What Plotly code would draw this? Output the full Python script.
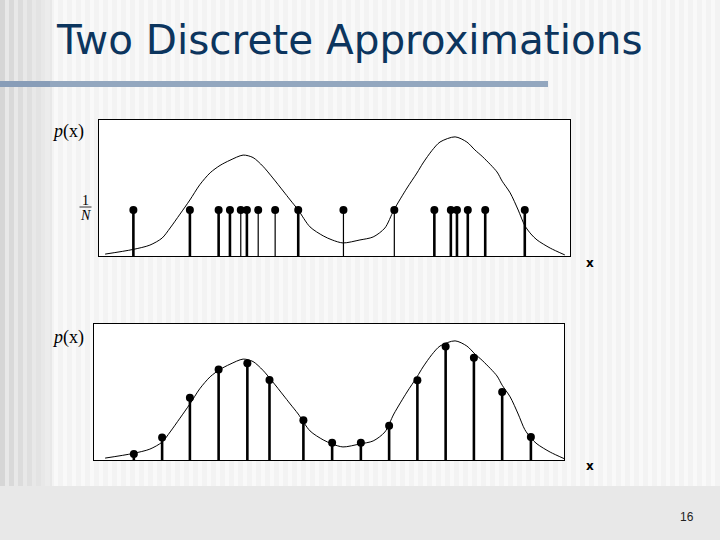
import plotly.graph_objects as go

# ---------------- data ----------------
# continuous density p(x) (same curve in both panels)
curve_x = [0.13, 0.72, 1.08, 1.34, 1.51, 1.72, 1.93, 2.14, 2.36, 2.57, 2.78, 3.06, 3.27, 3.48,
           3.69, 3.91, 4.06, 4.23, 4.48, 4.76, 4.95, 5.18, 5.54, 5.82, 6.07, 6.26, 6.54, 6.75,
           6.88, 7.07, 7.24, 7.56, 7.81, 7.98, 8.15, 8.45, 8.56, 8.73, 8.90, 9.04, 9.17, 9.30,
           9.58, 9.89]
curve_y = [0.007, 0.024, 0.040, 0.066, 0.103, 0.154, 0.206, 0.262, 0.306, 0.333, 0.352, 0.371,
           0.362, 0.330, 0.287, 0.239, 0.206, 0.169, 0.107, 0.074, 0.059, 0.048, 0.059, 0.070,
           0.103, 0.169, 0.250, 0.305, 0.342, 0.388, 0.419, 0.438, 0.419, 0.390, 0.364, 0.309,
           0.275, 0.232, 0.169, 0.112, 0.081, 0.059, 0.029, 0.004]

# panel 1: equally weighted samples (height 1/N)
sample_x = [0.73, 1.93, 2.54, 2.78, 3.01, 3.14, 3.38, 3.74, 4.23, 5.19, 6.27, 7.12, 7.47,
            7.60, 7.83, 8.20, 9.04]
sample_thin = [False, False, False, False, True, False, True, True, False, True, True, False,
               False, False, False, False, False]
one_over_n = 0.169

# panel 2: regular grid, weighted by density
grid_x = [0.74, 1.34, 1.93, 2.54, 3.15, 3.62, 4.34, 4.95, 5.56, 6.16, 6.76, 7.36, 7.96, 8.56, 9.17]
grid_w = [0.022, 0.083, 0.229, 0.333, 0.356, 0.294, 0.146, 0.063, 0.063, 0.126, 0.293, 0.417,
          0.376, 0.250, 0.085]

title_text = "Two Discrete Approximations"
page_number = "16"

# ---------------- figure ----------------
W, H = 720, 540
fig = go.Figure()


def stems(xs, hs):
    sx, sy = [], []
    for x, h in zip(xs, hs):
        sx += [x, x, None]
        sy += [0, h, None]
    return sx, sy


curve_line = dict(color="black", width=1, shape="spline", smoothing=0.8)

# top panel
thick_x = [x for x, t in zip(sample_x, sample_thin) if not t]
thin_x = [x for x, t in zip(sample_x, sample_thin) if t]
fig.add_trace(go.Scatter(x=curve_x, y=curve_y, mode="lines", line=curve_line,
                         xaxis="x", yaxis="y", showlegend=False, hoverinfo="skip"))
sx, sy = stems(thick_x, [one_over_n] * len(thick_x))
fig.add_trace(go.Scatter(x=sx, y=sy, mode="lines", line=dict(color="black", width=2.6),
                         xaxis="x", yaxis="y", showlegend=False, hoverinfo="skip"))
sx, sy = stems(thin_x, [one_over_n] * len(thin_x))
fig.add_trace(go.Scatter(x=sx, y=sy, mode="lines", line=dict(color="black", width=1.2),
                         xaxis="x", yaxis="y", showlegend=False, hoverinfo="skip"))
fig.add_trace(go.Scatter(x=sample_x, y=[one_over_n] * len(sample_x), mode="markers",
                         marker=dict(color="black", size=8),
                         xaxis="x", yaxis="y", showlegend=False, hoverinfo="skip"))

# bottom panel
fig.add_trace(go.Scatter(x=curve_x, y=curve_y, mode="lines", line=curve_line,
                         xaxis="x2", yaxis="y2", showlegend=False, hoverinfo="skip"))
sx, sy = stems(grid_x, grid_w)
fig.add_trace(go.Scatter(x=sx, y=sy, mode="lines", line=dict(color="black", width=2.6),
                         xaxis="x2", yaxis="y2", showlegend=False, hoverinfo="skip"))
fig.add_trace(go.Scatter(x=grid_x, y=grid_w, mode="markers", marker=dict(color="black", size=8),
                         xaxis="x2", yaxis="y2", showlegend=False, hoverinfo="skip"))


def px(v):
    return v / W


def py(v):
    return 1 - v / H


axis_common = dict(showgrid=False, zeroline=False, showticklabels=False, ticks="",
                   showline=True, linecolor="black", linewidth=1, mirror=True, fixedrange=True)

fig.update_layout(
    width=W, height=H,
    margin=dict(l=0, r=0, t=0, b=0),
    paper_bgcolor="#f3f3f3",
    plot_bgcolor="white",
    xaxis=dict(domain=[px(99), px(570)], range=[0, 10], anchor="y", **axis_common),
    yaxis=dict(domain=[py(256), py(120)], range=[0, 0.5], anchor="x", **axis_common),
    xaxis2=dict(domain=[px(94), px(564)], range=[-0.106, 9.873], anchor="y2", **axis_common),
    yaxis2=dict(domain=[py(460), py(324)], range=[0, 0.5], anchor="x2", **axis_common),
)

# ---------------- slide background ----------------
shapes = []
# faint vertical stripes over main area
for i in range(0, W, 9):
    shapes.append(dict(type="rect", xref="paper", yref="paper", x0=px(i), x1=px(i + 4),
                       y0=0, y1=1, fillcolor="#f9f9f9", line=dict(width=0), layer="below"))
# darker stripes on the left edge
shapes.append(dict(type="rect", xref="paper", yref="paper", x0=0, x1=px(52), y0=0, y1=1,
                   fillcolor="#e8e8e8", line=dict(width=0), layer="below"))
for i, c in [(0, "#d6d6d6"), (9, "#d9d9d9"), (18, "#dcdcdc"), (27, "#dfdfdf"), (36, "#e3e3e3"),
             (45, "#ececec")]:
    shapes.append(dict(type="rect", xref="paper", yref="paper", x0=px(i), x1=px(i + 5),
                       y0=0, y1=1, fillcolor=c, line=dict(width=0), layer="below"))
# bottom band
shapes.append(dict(type="rect", xref="paper", yref="paper", x0=0, x1=1, y0=0, y1=py(486),
                   fillcolor="#e8e8e8", line=dict(width=0), layer="below"))
# title rule
shapes.append(dict(type="rect", xref="paper", yref="paper", x0=0, x1=px(548), y0=py(87), y1=py(81),
                   fillcolor="#93a7bf", line=dict(width=0), layer="below"))
shapes.append(dict(type="rect", xref="paper", yref="paper", x0=0, x1=px(50), y0=py(87), y1=py(81),
                   fillcolor="#889db8", line=dict(width=0), layer="below"))
# white plot areas
for (l, r, t, b) in [(99, 570, 120, 256), (94, 564, 324, 460)]:
    shapes.append(dict(type="rect", xref="paper", yref="paper", x0=px(l), x1=px(r), y0=py(b), y1=py(t),
                       fillcolor="white", line=dict(width=0), layer="below"))
# fraction bar of 1/N
shapes.append(dict(type="line", xref="paper", yref="paper", x0=px(79.5), x1=px(91.5), y0=py(207), y1=py(207),
                   line=dict(color="black", width=0.8)))
fig.update_layout(shapes=shapes)

# ---------------- text ----------------
serif = "Liberation Serif"
ann = [
    dict(text=title_text, x=px(54), y=py(40), xanchor="left", yanchor="middle",
         font=dict(family="DejaVu Sans", size=40.5, color="#0c355e")),
    dict(text="<i>p</i>(x)", x=px(68), y=py(131), xanchor="center", yanchor="middle",
         font=dict(family=serif, size=18, color="black")),
    dict(text="<i>p</i>(x)", x=px(68), y=py(337), xanchor="center", yanchor="middle",
         font=dict(family=serif, size=18, color="black")),
    dict(text="1", x=px(85.5), y=py(200), xanchor="center", yanchor="middle",
         font=dict(family=serif, size=14, color="black")),
    dict(text="<i>N</i>", x=px(85.5), y=py(215), xanchor="center", yanchor="middle",
         font=dict(family=serif, size=14, color="black")),
    dict(text="<b>x</b>", x=px(590), y=py(263), xanchor="center", yanchor="middle",
         font=dict(family="DejaVu Sans", size=12, color="black")),
    dict(text="<b>x</b>", x=px(590), y=py(466), xanchor="center", yanchor="middle",
         font=dict(family="DejaVu Sans", size=12, color="black")),
    dict(text=page_number, x=px(687), y=py(517), xanchor="center", yanchor="middle",
         font=dict(family="Liberation Sans", size=12, color="#222222")),
]
for a in ann:
    a.update(xref="paper", yref="paper", showarrow=False)
fig.update_layout(annotations=ann)

fig.write_html("out.html", config={"displayModeBar": False},
               post_script="document.body.style.margin='0';")
